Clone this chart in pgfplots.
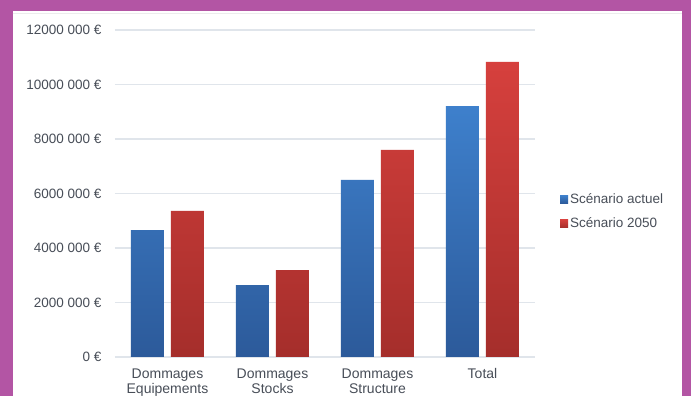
\documentclass[border=0pt]{standalone}
\usepackage{pgfplots}
\pgfplotsset{compat=1.18}
\usepackage{fontspec}
\setmainfont{Liberation Sans}
\definecolor{frame}{RGB}{179,85,164}
\definecolor{bluetop}{RGB}{62,128,204}
\definecolor{bluebot}{RGB}{44,90,154}
\definecolor{redtop}{RGB}{214,64,61}
\definecolor{redbot}{RGB}{165,46,43}
\definecolor{gridc}{RGB}{224,229,235}
\definecolor{txt}{RGB}{72,78,88}
\begin{document}
\begin{tikzpicture}[x=1pt,y=1pt]
\useasboundingbox (0,0) rectangle (691,396);
\fill[frame] (0,0) rectangle (691,396);
\fill[white] (12.5,0) rectangle (682,385);
\draw[gray!15] (12.5,383) -- (682,383);
\begin{axis}[
  at={(115pt,39pt)}, anchor=south west,
  scale only axis, width=420pt, height=327pt,
  xmin=-0.5, xmax=3.5, ymin=0, ymax=12000000,
  xtick={0,1,2,3},
  xticklabels={{Dommages\\Equipements},{Dommages\\Stocks},{Dommages\\Structure},{Total}},
  ytick={0,2000000,4000000,6000000,8000000,10000000,12000000},
  yticklabels={0 €,2000 000 €,4000 000 €,6000 000 €,8000 000 €,10000 000 €,12000 000 €},
  scaled y ticks=false,
  ymajorgrids, grid style={gridc, line width=1.1pt},
  axis line style={draw=none}, major tick length=0pt,
  ybar=7pt, bar width=33pt,
  tick label style={text=txt},
  yticklabel style={font=\fontsize{13.5}{15}\selectfont, xshift=-10pt},
  xticklabel style={font=\fontsize{14}{15}\selectfont, align=center, yshift=-8pt},
  legend style={at={(1,0.5)}, anchor=west, xshift=22pt, yshift=-18pt,
    draw=none, fill=none, font=\fontsize{13.5}{15}\selectfont, text=txt,
    row sep=9pt, nodes={inner sep=2pt}},
  legend cell align=left,
  legend image code/.code={\draw[#1,draw=none] (0pt,-4pt) rectangle (8pt,4pt);},
]
\addplot[top color=bluetop, bottom color=bluebot, draw=none]
  coordinates {(0,4660000) (1,2640000) (2,6500000) (3,9210000)};
\addplot[top color=redtop, bottom color=redbot, draw=none]
  coordinates {(0,5360000) (1,3190000) (2,7600000) (3,10830000)};
\legend{Scénario actuel, Scénario 2050}
\end{axis}
\end{tikzpicture}
\end{document}
